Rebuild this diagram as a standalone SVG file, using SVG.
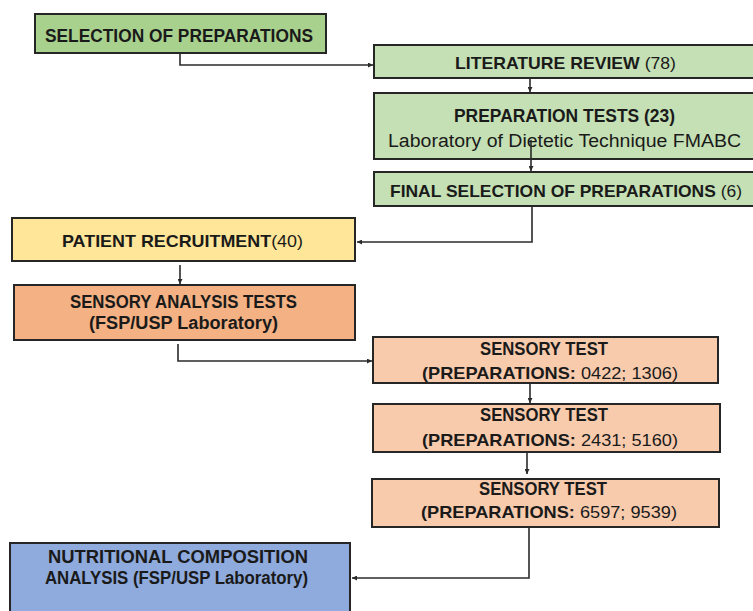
<svg xmlns="http://www.w3.org/2000/svg" width="753" height="611" viewBox="0 0 753 611">
<defs>
<style>
.box{stroke:#262626;stroke-width:2}
.t{font-family:"Liberation Sans",Arial,sans-serif;font-size:18px;fill:#1a1a1a;text-anchor:middle}
.m{font-size:17px}
.b{font-weight:bold}
.r{font-weight:normal}
.c{fill:none;stroke:#2b2b2b;stroke-width:1.6}
</style>
<marker id="ah" viewBox="0 0 10 10" refX="10" refY="5" markerWidth="5" markerHeight="5" orient="auto" markerUnits="userSpaceOnUse">
<path d="M0,0 L10,5 L0,10 z" fill="#2b2b2b"/>
</marker>
</defs>
<rect width="753" height="611" fill="#ffffff"/>

<g id="selection">
<rect class="box" x="35" y="14" width="291" height="39" fill="#a9d18e"/>
<text class="t b" x="179" y="42" textLength="268" lengthAdjust="spacingAndGlyphs">SELECTION OF PREPARATIONS</text>
</g>

<g id="literature">
<rect class="box" x="374" y="45" width="385" height="33" fill="#c5e0b4"/>
<text class="t m b" x="565.5" y="69" textLength="221" lengthAdjust="spacingAndGlyphs">LITERATURE REVIEW <tspan class="r">(78)</tspan></text>
</g>

<g id="prep-tests">
<rect class="box" x="374" y="93" width="385" height="66" fill="#c5e0b4"/>
<text class="t b" x="564.5" y="122" textLength="221" lengthAdjust="spacingAndGlyphs">PREPARATION TESTS (23)</text>
<text class="t r" x="564.5" y="147" textLength="353" lengthAdjust="spacingAndGlyphs">Laboratory of Dietetic Technique FMABC</text>
</g>

<g id="final-selection">
<rect class="box" x="374" y="172" width="385" height="34" fill="#c5e0b4"/>
<text class="t m b" x="566" y="197" textLength="352" lengthAdjust="spacingAndGlyphs">FINAL SELECTION OF PREPARATIONS <tspan class="r">(6)</tspan></text>
</g>

<g id="patient">
<rect class="box" x="12" y="218" width="343" height="43" fill="#ffe699"/>
<text class="t m b" x="182.5" y="247" textLength="241" lengthAdjust="spacingAndGlyphs">PATIENT RECRUITMENT<tspan class="r">(40)</tspan></text>
</g>

<g id="sensory-analysis">
<rect class="box" x="14" y="285" width="341" height="55" fill="#f4b183"/>
<text class="t b" x="183.5" y="308" textLength="227" lengthAdjust="spacingAndGlyphs">SENSORY ANALYSIS TESTS</text>
<text class="t b" x="183.5" y="329" textLength="189" lengthAdjust="spacingAndGlyphs">(FSP/USP Laboratory)</text>
</g>

<g id="sensory-test-1">
<rect class="box" x="373" y="337" width="345" height="46" fill="#f8cbad"/>
<text class="t b" x="544" y="355" textLength="128" lengthAdjust="spacingAndGlyphs">SENSORY TEST</text>
<text class="t m b" x="550" y="379" textLength="256" lengthAdjust="spacingAndGlyphs">(PREPARATIONS: <tspan class="r">0422; 1306)</tspan></text>
</g>

<g id="sensory-test-2">
<rect class="box" x="373" y="404" width="347" height="48" fill="#f8cbad"/>
<text class="t b" x="544" y="421" textLength="128" lengthAdjust="spacingAndGlyphs">SENSORY TEST</text>
<text class="t m b" x="550" y="446" textLength="256" lengthAdjust="spacingAndGlyphs">(PREPARATIONS: <tspan class="r">2431; 5160)</tspan></text>
</g>

<g id="sensory-test-3">
<rect class="box" x="372" y="479" width="347" height="48" fill="#f8cbad"/>
<text class="t b" x="543" y="495" textLength="128" lengthAdjust="spacingAndGlyphs">SENSORY TEST</text>
<text class="t m b" x="549" y="518" textLength="256" lengthAdjust="spacingAndGlyphs">(PREPARATIONS: <tspan class="r">6597; 9539)</tspan></text>
</g>

<g id="nutritional">
<rect class="box" x="10" y="543" width="340" height="75" fill="#8faadc"/>
<text class="t b" x="178" y="563" textLength="260" lengthAdjust="spacingAndGlyphs">NUTRITIONAL COMPOSITION</text>
<text class="t b" x="176.5" y="584" textLength="263" lengthAdjust="spacingAndGlyphs">ANALYSIS (FSP/USP Laboratory)</text>
</g>

<g id="connectors">
<path class="c" d="M180,53 V65 H373" marker-end="url(#ah)"/>
<path class="c" d="M530,78 V92" marker-end="url(#ah)"/>
<path class="c" d="M531,140 V171" marker-end="url(#ah)"/>
<path class="c" d="M532,206 V242 H357" marker-end="url(#ah)"/>
<path class="c" d="M180,265 V284" marker-end="url(#ah)"/>
<path class="c" d="M178,344 V361 H372" marker-end="url(#ah)"/>
<path class="c" d="M530,383 V403" marker-end="url(#ah)"/>
<path class="c" d="M527,452 V474"  marker-end="url(#ah)"/>
<path class="c" d="M529,527 V578 H352" marker-end="url(#ah)"/>
</g>
</svg>
